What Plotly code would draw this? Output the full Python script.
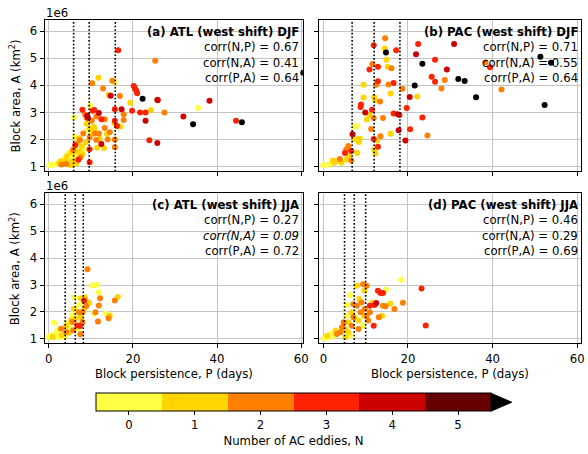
import plotly.graph_objects as go

# ---------------- data (A in units of 1e6 km^2) ----------------
atl_djf = [
    (16.5,5.29,3),(25.3,4.90,2),(11.8,4.28,1),(10.3,4.07,2),(15.1,4.17,2),(15.7,4.10,0),(12.9,3.88,2),
    (20.2,3.97,3),(20.5,3.88,3),(20.8,3.80,3),(21.0,3.71,3),(14.2,3.65,1),(14.7,3.61,4),(16.9,3.60,2),
    (22.3,3.50,6),(25.8,3.47,3),(25.9,3.45,4),(38.2,3.43,4),(19.4,3.36,1),(35.5,3.17,0),(24.3,3.08,1),
    (27.5,3.00,2),(8.0,3.10,3),(10.4,3.06,3),(11.9,2.98,4),(15.7,3.12,3),(17.3,3.12,4),(17.8,2.93,2),
    (19.8,3.06,3),(21.7,3.00,3),(23.0,3.00,3),(32.0,2.85,4),(23.0,2.69,4),(15.7,2.69,3),(16.2,2.50,3),
    (17.8,2.72,2),(17.0,2.48,1),(44.5,2.69,3),(45.9,2.64,6),(34.3,2.56,6),(23.9,1.97,3),(25.8,1.87,4),
    (15.7,2.00,2),(15.7,1.71,2),(9.7,1.64,3),(9.7,1.16,3),(12.5,1.83,4),(13.1,1.69,1),(6.0,2.81,0),
    (9.8,3.25,0),(9.1,2.88,4),(9.7,2.07,2),(11.9,2.22,2),(13.3,2.42,2),(14.5,2.27,2),(10.2,2.69,2),
    (10.7,2.47,1),(60.5,4.46,6),(8.6,2.92,2),(9.0,2.80,2),(9.3,2.80,4),(10.8,3.09,3),(11.3,2.85,2),
    (12.5,2.75,3),(13.3,2.75,2),(9.0,2.58,1),(9.2,2.34,0),(9.8,2.40,1),(10.1,2.22,0),(10.9,2.40,1),
    (10.9,2.22,2),(11.3,1.98,2),(6.2,2.10,0),(7.4,1.98,2),(8.2,2.22,2),(14.0,2.00,2),(12.1,2.03,1),
    (13.8,2.20,1),(15.6,2.60,1),(11.5,1.70,1),
    (0.2,1.06,0),(1.0,1.07,0),(1.8,1.10,0),(2.5,1.13,1),(3.0,1.08,2),(3.5,1.15,0),(4.2,1.10,2),
    (4.0,1.22,1),(4.5,1.30,0),(5.0,1.40,0),(4.7,1.48,0),(5.4,1.55,1),(5.8,1.62,2),(6.0,1.70,0),
    (6.3,1.80,3),(6.8,1.88,1),(7.0,1.45,0),(7.4,1.55,1),(7.5,1.35,2),(7.0,1.25,3),(5.5,1.20,1),
    (6.2,1.30,0),(3.8,1.30,0),(2.8,1.20,1),(5.2,1.05,1),(6.5,1.12,1),(7.2,2.05,1),(7.8,1.75,1),
    (8.3,1.65,0),(6.5,1.58,1),(4.3,1.38,1),(5.8,1.50,1),(8.8,1.90,1),(8.0,1.45,1),
]
pac_djf = [
    (14.6,5.73,2),(11.9,5.48,3),(22.4,5.52,3),(30.9,5.52,4),(14.5,5.36,1),(14.8,5.21,6),(17.2,5.29,3),
    (21.9,5.14,4),(51.3,5.05,6),(53.8,4.83,6),(38.3,4.85,2),(39.4,4.66,3),(14.9,4.94,1),(26.4,4.94,3),
    (23.4,4.79,6),(11.6,4.78,2),(12.9,4.68,3),(10.9,4.58,3),(15.2,4.68,1),(16.1,4.63,2),(29.2,4.58,4),
    (25.6,4.31,3),(26.4,4.13,3),(28.7,4.19,2),(31.9,4.23,6),(33.4,4.16,6),(27.9,3.88,2),(42.1,3.84,2),
    (21.6,3.99,6),(18.7,3.87,2),(16.6,4.08,3),(15.4,4.03,2),(12.9,4.15,3),(12.5,4.02,2),(9.5,4.02,1),
    (15.9,3.70,1),(20.4,3.57,4),(22.2,3.59,1),(36.1,3.56,6),(52.3,3.27,6),(9.5,3.55,1),(12.0,3.57,1),
    (12.3,3.45,1),(13.4,3.40,2),(8.9,3.29,3),(8.8,3.20,3),(9.9,3.00,4),(11.5,3.10,3),(10.9,2.90,1),
    (19.7,3.16,3),(18.0,2.90,3),(16.6,2.96,3),(17.6,2.93,4),(23.4,2.81,3),(14.1,2.79,2),(11.9,2.79,2),
    (10.3,2.74,1),(17.8,2.34,4),(20.5,2.38,3),(24.6,2.15,2),(19.4,1.96,4),(15.9,2.21,1),(13.5,2.12,2),
    (12.7,1.96,1),(12.9,1.73,3),(11.3,2.39,2),(11.9,2.02,3),(7.4,2.47,0),(8.0,2.49,0),(6.9,2.19,4),
    (7.3,2.03,1),(8.6,2.03,1),(8.4,1.91,1),(5.9,1.76,2),(5.4,1.63,2),(5.1,1.50,3),(6.6,1.58,3),
    (6.1,1.38,1),(8.0,1.50,1),(12.0,1.63,1),(12.3,1.48,1),(3.9,1.28,2),(3.1,1.21,1),(4.3,1.14,1),
    (0.0,1.05,0),(1.2,1.07,0),(2.2,1.23,1),(2.6,1.14,1),(5.5,1.26,1),(6.6,1.23,2),
]
atl_jja = [
    (9.2,3.59,2),(10.4,2.98,0),(11.4,3.01,0),(11.9,2.73,0),(12.2,2.51,2),(16.4,2.56,1),(15.7,2.43,2),
    (7.6,2.51,1),(8.6,2.55,1),(8.4,2.43,3),(8.9,2.39,0),(9.6,2.34,1),(11.9,2.24,2),(7.2,2.27,0),
    (6.0,2.55,0),(6.0,2.12,1),(7.2,1.99,2),(8.0,1.99,2),(10.7,1.93,0),(11.1,1.99,2),(13.5,1.93,0),
    (14.5,1.87,1),(14.2,1.77,2),(11.7,1.65,2),(6.4,1.75,1),(6.8,1.50,3),(7.4,1.48,3),(5.6,1.63,2),
    (7.5,1.17,2),(4.9,1.44,0),(4.1,1.26,2),(2.9,1.38,2),(1.3,1.60,0),(0.5,1.14,0),(0.0,1.07,0),
    (1.7,1.20,0),(2.1,1.32,0),(3.1,1.14,1),(3.7,1.07,0),(4.9,1.23,1),(4.5,1.56,0),(5.6,1.87,0),
    (5.3,1.69,1),(6.4,2.06,0),(7.6,1.81,1),(8.0,1.63,2),(7.1,1.38,0),(0.9,1.07,1),(2.4,1.07,0),
    (4.1,1.50,1),(5.8,1.32,2),(8.4,2.12,1),(8.9,2.22,2),
]
pac_jja = [
    (18.4,3.20,0),(23.2,2.87,3),(24.2,1.50,3),(18.8,2.34,2),(16.8,2.11,2),(15.8,2.31,1),(14.8,2.82,0),
    (14.1,2.70,3),(12.9,2.79,3),(13.5,2.70,3),(12.5,2.33,4),(12.1,2.26,3),(14.1,2.23,2),(14.7,2.21,2),
    (13.9,1.86,1),(13.1,1.80,2),(11.9,1.49,3),(11.6,2.35,1),(11.0,1.99,2),(10.2,2.97,2),(9.4,3.03,2),
    (9.7,2.79,1),(7.9,2.97,1),(6.3,2.63,0),(5.6,2.26,0),(7.1,2.29,2),(7.9,2.23,2),(8.5,2.48,1),
    (9.0,2.35,2),(9.8,2.11,2),(9.6,1.86,1),(9.4,1.49,0),(7.5,1.80,0),(6.7,1.49,2),(5.6,1.86,0),
    (4.8,1.62,2),(5.2,1.37,1),(4.0,1.25,2),(3.2,1.18,2),(2.5,1.12,0),(1.3,1.06,0),(0.2,1.02,0),
    (1.7,1.18,0),(5.9,1.25,1),(8.3,1.37,2),(10.6,1.68,2),(0.9,1.12,1),(2.9,1.31,1),(4.4,1.43,2),
    (5.9,1.62,1),(6.7,1.99,1),(7.1,1.80,2),(8.3,1.68,1),(8.8,1.99,2),(6.3,1.12,0),(5.2,1.06,1),
    (10.2,1.86,2),(11.0,2.23,3),
]

panel_titles = ["(a) ATL (west shift) DJF", "(b) PAC (west shift) DJF",
                "(c) ATL (west shift) JJA", "(d) PAC (west shift) JJA"]
corr_np = [0.67, 0.71, 0.27, 0.46]
corr_na = [0.41, 0.55, 0.09, 0.29]
corr_pa = [0.64, 0.64, 0.72, 0.69]
italic_na = [False, False, True, False]
thresholds = [[5.9, 9.6, 15.8], [6.8, 12.0, 18.1], [3.9, 6.3, 8.2], [5.0, 7.3, 10.0]]
x_ticks = [0, 20, 40, 60]
y_ticks = [1, 2, 3, 4, 5, 6]
n_levels = [0, 1, 2, 3, 4, 5]
n_colors = ["#ffff44", "#ffd500", "#ff8000", "#ff2200", "#cc0000", "#660000"]
over_color = "#000000"

datasets = [atl_djf, pac_djf, atl_jja, pac_jja]

# ---------------- layout geometry (pixels) ----------------
W, H = 588, 454
px_x = [(45, 306), (322, 587), (45, 306), (322, 587)]
px_y = [(20, 172), (20, 172), (194, 345), (194, 345)]
x_ranges = [[-1.01, 60.4], [-1.1, 60.9], [-1.01, 60.4], [-1.1, 60.9]]
y_range = [0.83, 6.41]
FONT = "DejaVu Sans"
FS = 11.7

def discrete_scale(colors):
    n = len(colors)
    cs = []
    for i, c in enumerate(colors):
        cs.append([i / n, c])
        cs.append([(i + 1) / n, c])
    return cs

point_scale = discrete_scale(n_colors + [over_color])
bar_scale = discrete_scale(n_colors)

fig = go.Figure()
layout = dict(width=W, height=H, margin=dict(l=0, r=0, t=0, b=0),
              paper_bgcolor="white", plot_bgcolor="white",
              font=dict(family=FONT, size=FS, color="black"), showlegend=False)

annotations = []
shapes = []
for i, data in enumerate(datasets):
    k = "" if i == 0 else str(i + 1)
    xa, ya = "x" + k, "y" + k
    srt = sorted(data, key=lambda t: t[2])
    fig.add_trace(go.Scatter(
        x=[t[0] for t in srt], y=[t[1] for t in srt], mode="markers",
        xaxis=xa, yaxis=ya, cliponaxis=True,
        marker=dict(size=6, color=[t[2] for t in srt], colorscale=point_scale,
                    cmin=-0.5, cmax=6.5, showscale=False, line=dict(width=0)),
        hoverinfo="skip"))
    for th in thresholds[i]:
        fig.add_trace(go.Scatter(x=[th, th], y=y_range, mode="lines", xaxis=xa, yaxis=ya,
                                 line=dict(color="black", width=1.6, dash="1.6px,2px"),
                                 hoverinfo="skip"))
    x0, x1 = px_x[i]
    y0, y1 = px_y[i]
    layout["xaxis" + k] = dict(
        domain=[x0 / W, x1 / W], range=x_ranges[i], anchor=ya,
        tickvals=x_ticks, ticks="outside", ticklen=4, tickwidth=1, tickcolor="black",
        showticklabels=(i >= 2), showline=True, linecolor="black", linewidth=1, mirror=True,
        showgrid=True, gridcolor="#c4c4c4", gridwidth=1, zeroline=False,
        tickfont=dict(size=FS))
    layout["yaxis" + k] = dict(
        domain=[1 - y1 / H, 1 - y0 / H], range=y_range, anchor=xa,
        tickvals=y_ticks, ticks="outside", ticklen=4, tickwidth=1, tickcolor="black",
        showticklabels=(i % 2 == 0), showline=True, linecolor="black", linewidth=1, mirror=True,
        showgrid=True, gridcolor="#c4c4c4", gridwidth=1, zeroline=False,
        tickfont=dict(size=FS))
    # panel text
    xr = (x1 - 1.5) / W
    na_txt = f"corr(N,A) = {corr_na[i]:.2f}"
    if italic_na[i]:
        na_txt = "<i>" + na_txt + "</i>"
    lines = [("<b>" + panel_titles[i] + "</b>", 12),
             (f"corr(N,P) = {corr_np[i]:.2f}", 27),
             (na_txt, 43),
             (f"corr(P,A) = {corr_pa[i]:.2f}", 58)]
    for txt, dy in lines:
        annotations.append(dict(text=txt, x=xr, y=1 - (y0 + dy) / H, xref="paper", yref="paper",
                                xanchor="right", yanchor="middle", showarrow=False,
                                font=dict(size=FS)))
    if i % 2 == 0:
        annotations.append(dict(text="1e6", x=(x0 - 1) / W, y=1 - (y0 - 7) / H, xref="paper", yref="paper",
                                xanchor="left", yanchor="middle", showarrow=False, font=dict(size=FS)))
        annotations.append(dict(text="Block area, A (km<sup>2</sup>)", x=15 / W, y=1 - ((y0 + y1) / 2) / H,
                                xref="paper", yref="paper", textangle=-90, xanchor="center",
                                yanchor="middle", showarrow=False, font=dict(size=FS)))
    if i >= 2:
        annotations.append(dict(text="Block persistence, P (days)", x=((x0 + x1) / 2) / W, y=1 - 376 / H,
                                xref="paper", yref="paper", xanchor="center", yanchor="middle",
                                showarrow=False, font=dict(size=FS)))

# colorbar holder trace
cb_left, cb_right, cb_top, cb_th = 97, 496, 395, 18
fig.add_trace(go.Scatter(
    x=[None], y=[None], mode="markers", xaxis="x", yaxis="y",
    marker=dict(color=[0], colorscale=bar_scale, cmin=-0.5, cmax=5.5, showscale=True,
                colorbar=dict(orientation="h", x=((cb_left + cb_right) / 2) / W, xanchor="center",
                              y=1 - cb_top / H, yanchor="top", len=(cb_right - cb_left) / W,
                              lenmode="fraction", thickness=cb_th, thicknessmode="pixels",
                              xpad=0, ypad=0, outlinewidth=1, outlinecolor="black",
                              tickvals=n_levels, ticks="outside", ticklen=4, tickcolor="black",
                              tickfont=dict(size=FS),
                              title=dict(text="Number of AC eddies, N", side="bottom",
                                         font=dict(size=FS)))),
    hoverinfo="skip"))

# extend arrow (over-range colour)
ax0 = cb_right / W
ax1 = (cb_right + 21) / W
ay_t = 1 - cb_top / H
ay_b = 1 - (cb_top + cb_th) / H
shapes.append(dict(type="path", xref="paper", yref="paper",
                   path=f"M {ax0} {ay_t} L {ax1} {(ay_t + ay_b) / 2} L {ax0} {ay_b} Z",
                   fillcolor=over_color, line=dict(color="black", width=1)))

layout["annotations"] = annotations
layout["shapes"] = shapes
fig.update_layout(**layout)
fig.write_html("out.html")
